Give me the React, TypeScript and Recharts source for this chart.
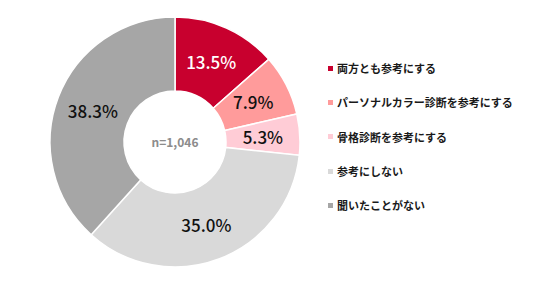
import { PieChart, Pie, Cell, Legend } from 'recharts';

const categories = [
  '両方とも参考にする',
  'パーソナルカラー診断を参考にする',
  '骨格診断を参考にする',
  '参考にしない',
  '聞いたことがない',
];
const shares = [13.5, 7.9, 5.3, 35.0, 38.3];
const colors = ['#C8002E', '#FF9B9B', '#FFCCD6', '#D9D9D9', '#A6A6A6'];
const labelColors = ['#FFFFFF', '#111111', '#111111', '#111111', '#111111'];
const sampleLabel = 'n=1,046';

const data = categories.map((name, i) => ({ name, value: shares[i] }));

const FONT = '"Noto Sans CJK JP", "Noto Sans", sans-serif';
const RADIAN = Math.PI / 180;
const CX = 175;
const CY = 142;

function renderLabel(props: any) {
  const { cx, cy, midAngle, innerRadius, outerRadius, value, index } = props;
  const r = (innerRadius + outerRadius) / 2;
  const x = cx + r * Math.cos(-midAngle * RADIAN);
  const y = cy + r * Math.sin(-midAngle * RADIAN);
  return (
    <text
      x={x}
      y={y}
      fill={labelColors[index]}
      textAnchor="middle"
      dominantBaseline="central"
      fontSize={17}
      fontWeight={500}
      fontFamily={FONT}
    >
      {`${value.toFixed(1)}%`}
    </text>
  );
}

function LegendList() {
  return (
    <div style={{ fontFamily: FONT, fontSize: 11, fontWeight: 700, color: '#1a1a1a' }}>
      {categories.map((name, i) => (
        <div key={name} style={{ display: 'flex', alignItems: 'center', height: 34.3 }}>
          <span
            style={{
              display: 'inline-block',
              width: 5,
              height: 5,
              background: colors[i],
              marginRight: 4,
            }}
          />
          <span>{name}</span>
        </div>
      ))}
    </div>
  );
}

export default function App() {
  return (
    <div style={{ position: 'relative', width: 536, height: 287, background: '#fff' }}>
      <style>{'body{margin:0}'}</style>
      <PieChart width={536} height={287} margin={{ top: 0, right: 0, bottom: 0, left: 0 }}>
        <Pie
          data={data}
          dataKey="value"
          nameKey="name"
          cx={CX}
          cy={CY}
          innerRadius={51}
          outerRadius={125}
          startAngle={90}
          endAngle={-270}
          stroke="#fff"
          strokeWidth={1.5}
          label={renderLabel}
          labelLine={false}
          isAnimationActive={false}
        >
          {data.map((d, i) => (
            <Cell key={d.name} fill={colors[i]} />
          ))}
        </Pie>
        <Legend
          content={<LegendList />}
          layout="vertical"
          wrapperStyle={{ position: 'absolute', left: 328, top: 51, width: 208 }}
        />
      </PieChart>
      <div
        style={{
          position: 'absolute',
          left: CX - 40,
          top: CY - 10,
          width: 80,
          height: 20,
          lineHeight: '20px',
          textAlign: 'center',
          fontFamily: FONT,
          fontSize: 12,
          fontWeight: 700,
          color: '#8C8C8C',
        }}
      >
        {sampleLabel}
      </div>
    </div>
  );
}
